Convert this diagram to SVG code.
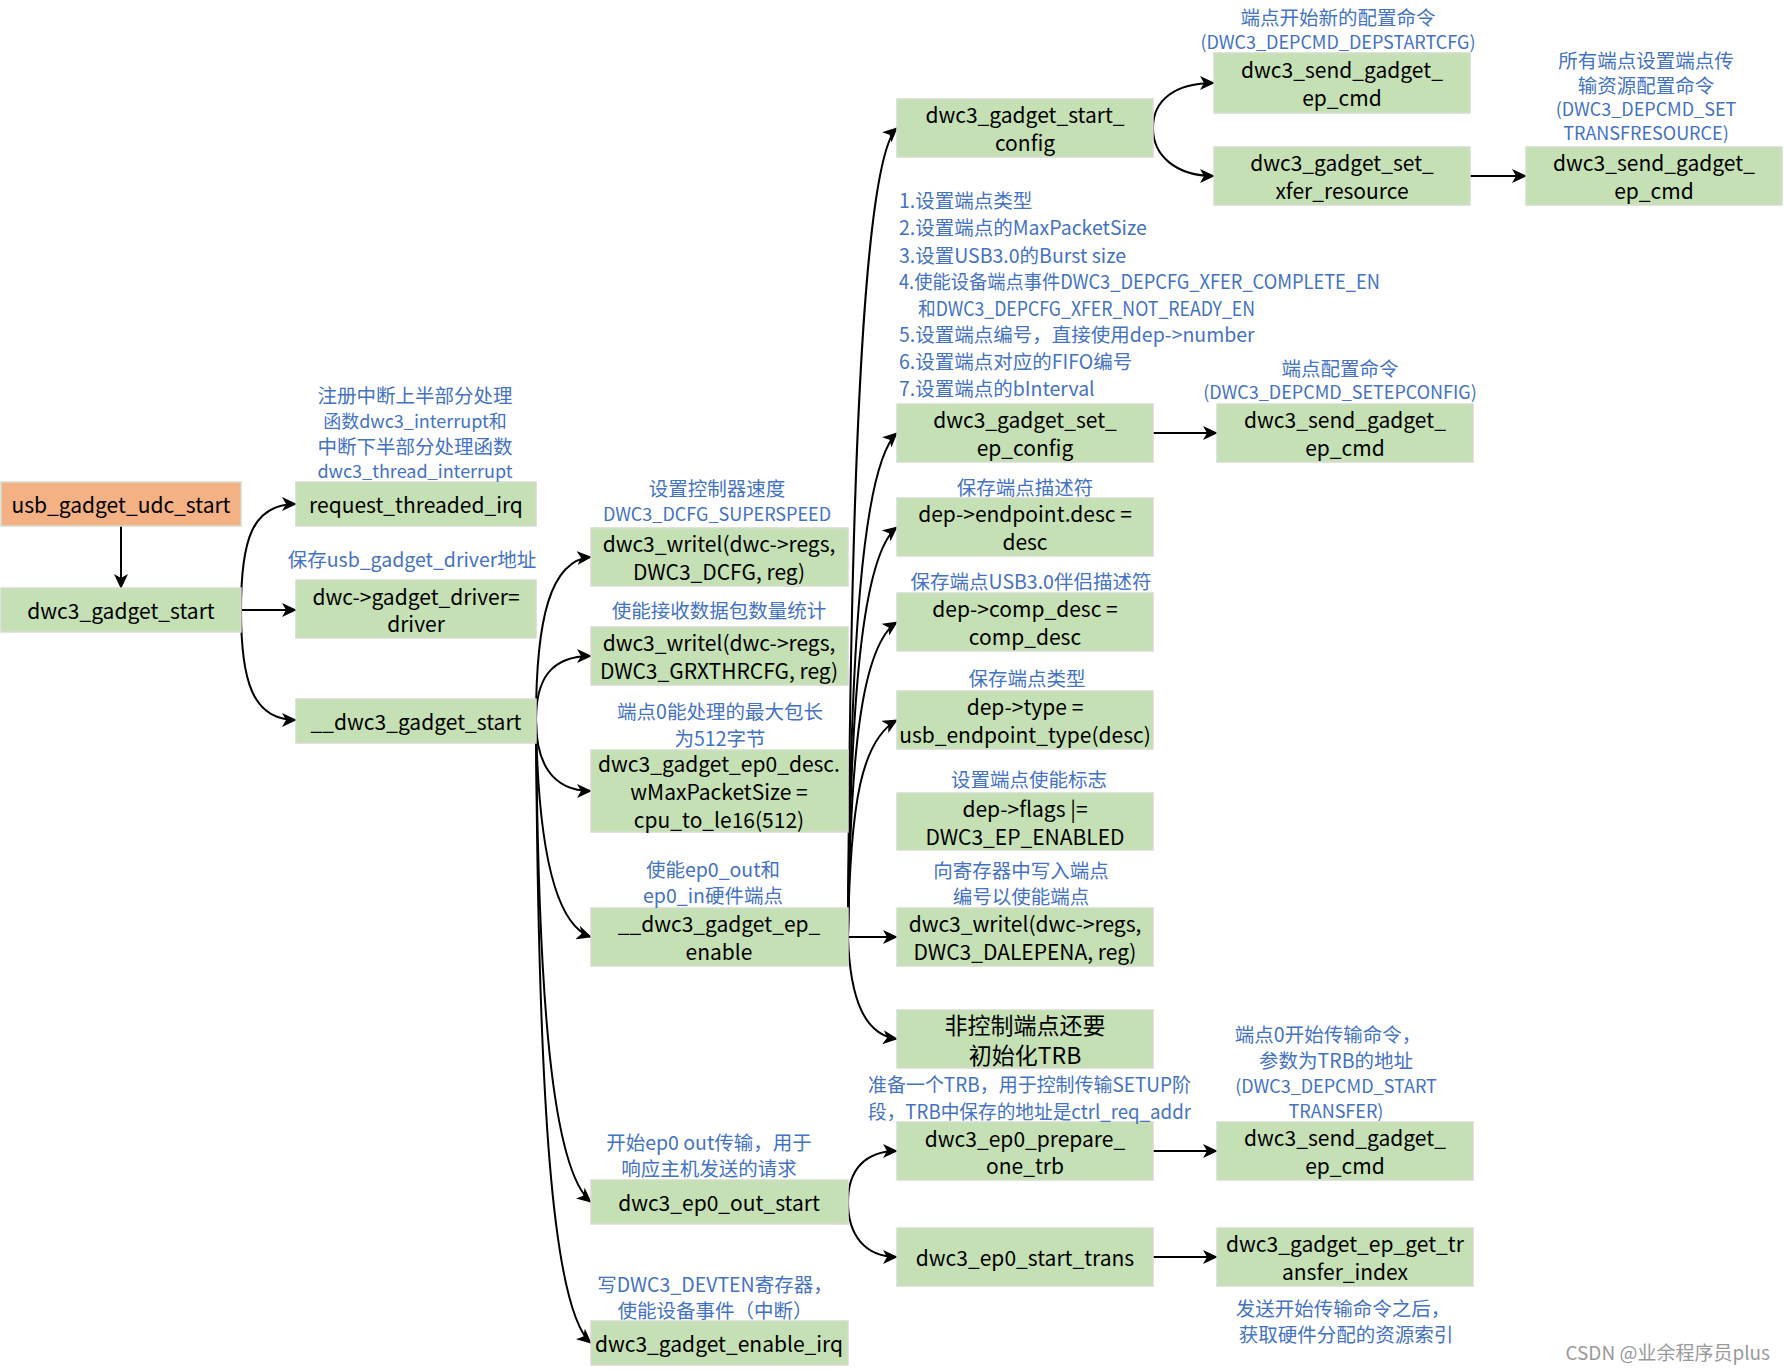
<svg xmlns="http://www.w3.org/2000/svg" width="1784" height="1370" viewBox="0 0 1784 1370">
<defs>
<marker id="ah" markerUnits="userSpaceOnUse" markerWidth="16" markerHeight="14" refX="14" refY="7" orient="auto">
<path d="M0,0 L15,7 L0,14 L4,7 z" fill="#000"/>
</marker>
<style>
.n rect{fill:#C5E0B4;stroke:#D4DCCD;stroke-width:1.5}
.n.o rect{fill:#F4B183}
.n text{font-family:"Noto Sans CJK SC","Liberation Sans",sans-serif;font-size:21px;fill:#000;text-anchor:middle;dominant-baseline:central}
.a{font-family:"Noto Sans CJK SC","Liberation Sans",sans-serif;font-size:19.5px;fill:#4472C4;text-anchor:middle;dominant-baseline:central}
.s{text-anchor:start}
.l{font-size:18px}
#conn path{fill:none;stroke:#000;stroke-width:2;marker-end:url(#ah)}
</style>
</defs>
<rect width="1784" height="1370" fill="#fff"/>

<g id="conn">
<path d="M121,526 L121,588"/>
<path d="M241,610 C241,540 252,504 296,504"/>
<path d="M241,610 L296,610"/>
<path d="M241,610 C241,680 252,720 296,720"/>
<path d="M536,720 C536,620 550,560 591,557"/>
<path d="M536,720 C536,680 550,656 591,656"/>
<path d="M536,720 C536,760 550,791 591,791"/>
<path d="M536,720 C538,850 555,925 591,937"/>
<path d="M536,720 C538,1000 552,1170 591,1202"/>
<path d="M536,720 C538,1100 552,1310 591,1343"/>
<path d="M848,937 C850,500 862,160 897,128"/>
<path d="M848,937 C850,650 862,465 897,433"/>
<path d="M848,937 C850,700 862,555 897,527"/>
<path d="M848,937 C850,750 862,645 897,622"/>
<path d="M848,937 C850,800 862,740 897,720"/>
<path d="M848,937 L897,937"/>
<path d="M848,937 C850,1000 865,1035 897,1039"/>
<path d="M848,1202 C848,1170 865,1151 897,1151"/>
<path d="M848,1202 C848,1235 865,1257 897,1257"/>
<path d="M1153,128 C1153,100 1175,83 1214,83"/>
<path d="M1153,128 C1153,155 1175,176 1214,176"/>
<path d="M1470,176 L1526,176"/>
<path d="M1153,433 L1217,433"/>
<path d="M1153,1151 L1217,1151"/>
<path d="M1153,1257 L1217,1257"/>
</g>

<g id="n1" class="n o"><rect x="1" y="482" width="240" height="44"/><text x="121" y="504">usb_gadget_udc_start</text></g>
<g id="n2" class="n"><rect x="1" y="588" width="240" height="44"/><text x="121" y="610">dwc3_gadget_start</text></g>
<g id="n3" class="n"><rect x="296" y="482" width="240" height="44"/><text x="416" y="504">request_threaded_irq</text></g>
<g id="n4" class="n"><rect x="296" y="580" width="240" height="58"/><text x="416" y="596">dwc-&gt;gadget_driver=</text><text x="416" y="623">driver</text></g>
<g id="n5" class="n"><rect x="296" y="699" width="240" height="44"/><text x="416" y="721">__dwc3_gadget_start</text></g>

<g id="n6" class="n"><rect x="591" y="528" width="257" height="58"/><text x="719" y="543">dwc3_writel(dwc-&gt;regs,</text><text x="719" y="571">DWC3_DCFG, reg)</text></g>
<g id="n7" class="n"><rect x="591" y="627" width="257" height="58"/><text x="719" y="642">dwc3_writel(dwc-&gt;regs,</text><text x="719" y="670">DWC3_GRXTHRCFG, reg)</text></g>
<g id="n8" class="n"><rect x="591" y="750" width="257" height="82"/><text x="719" y="763">dwc3_gadget_ep0_desc.</text><text x="719" y="791">wMaxPacketSize =</text><text x="719" y="819">cpu_to_le16(512)</text></g>
<g id="n9" class="n"><rect x="591" y="908" width="257" height="58"/><text x="719" y="923">__dwc3_gadget_ep_</text><text x="719" y="951">enable</text></g>
<g id="n10" class="n"><rect x="591" y="1180" width="257" height="44"/><text x="719" y="1202">dwc3_ep0_out_start</text></g>
<g id="n11" class="n"><rect x="591" y="1321" width="257" height="44"/><text x="719" y="1343">dwc3_gadget_enable_irq</text></g>

<g id="n12" class="n"><rect x="897" y="99" width="256" height="58"/><text x="1025" y="114">dwc3_gadget_start_</text><text x="1025" y="142">config</text></g>
<g id="n13" class="n"><rect x="897" y="404" width="256" height="58"/><text x="1025" y="419">dwc3_gadget_set_</text><text x="1025" y="447">ep_config</text></g>
<g id="n14" class="n"><rect x="897" y="498" width="256" height="58"/><text x="1025" y="513">dep-&gt;endpoint.desc =</text><text x="1025" y="541">desc</text></g>
<g id="n15" class="n"><rect x="897" y="593" width="256" height="58"/><text x="1025" y="608">dep-&gt;comp_desc =</text><text x="1025" y="636">comp_desc</text></g>
<g id="n16" class="n"><rect x="897" y="691" width="256" height="58"/><text x="1025" y="706">dep-&gt;type =</text><text x="1025" y="734">usb_endpoint_type(desc)</text></g>
<g id="n17" class="n"><rect x="897" y="793" width="256" height="57"/><text x="1025" y="808">dep-&gt;flags |=</text><text x="1025" y="836">DWC3_EP_ENABLED</text></g>
<g id="n18" class="n"><rect x="897" y="908" width="256" height="58"/><text x="1025" y="923">dwc3_writel(dwc-&gt;regs,</text><text x="1025" y="951">DWC3_DALEPENA, reg)</text></g>
<g id="n19" class="n"><rect x="897" y="1010" width="256" height="58"/><text x="1025" y="1024" style="font-size:23px">非控制端点还要</text><text x="1025" y="1054" style="font-size:23px">初始化TRB</text></g>
<g id="n20" class="n"><rect x="897" y="1122" width="256" height="58"/><text x="1025" y="1138">dwc3_ep0_prepare_</text><text x="1025" y="1165">one_trb</text></g>
<g id="n21" class="n"><rect x="897" y="1228" width="256" height="58"/><text x="1025" y="1257">dwc3_ep0_start_trans</text></g>

<g id="n22" class="n"><rect x="1214" y="53" width="256" height="60"/><text x="1342" y="69">dwc3_send_gadget_</text><text x="1342" y="97">ep_cmd</text></g>
<g id="n23" class="n"><rect x="1214" y="147" width="256" height="58"/><text x="1342" y="162">dwc3_gadget_set_</text><text x="1342" y="190">xfer_resource</text></g>
<g id="n24" class="n"><rect x="1217" y="404" width="256" height="58"/><text x="1345" y="419">dwc3_send_gadget_</text><text x="1345" y="447">ep_cmd</text></g>
<g id="n25" class="n"><rect x="1217" y="1122" width="256" height="58"/><text x="1345" y="1137">dwc3_send_gadget_</text><text x="1345" y="1165">ep_cmd</text></g>
<g id="n26" class="n"><rect x="1217" y="1228" width="256" height="58"/><text x="1345" y="1243">dwc3_gadget_ep_get_tr</text><text x="1345" y="1271">ansfer_index</text></g>
<g id="n27" class="n"><rect x="1526" y="147" width="256" height="58"/><text x="1654" y="162">dwc3_send_gadget_</text><text x="1654" y="190">ep_cmd</text></g>

<g id="labels">
<text class="a" x="415" y="394">注册中断上半部分处理</text>
<text class="a l" x="415" y="420">函数dwc3_interrupt和</text>
<text class="a" x="415" y="445">中断下半部分处理函数</text>
<text class="a l" x="415" y="470">dwc3_thread_interrupt</text>
<text class="a" x="412" y="558">保存usb_gadget_driver地址</text>
<text class="a" x="717" y="487">设置控制器速度</text>
<text class="a l" x="717" y="513">DWC3_DCFG_SUPERSPEED</text>
<text class="a" x="719" y="609">使能接收数据包数量统计</text>
<text class="a" x="720" y="710">端点0能处理的最大包长</text>
<text class="a" x="720" y="737">为512字节</text>
<text class="a" x="713" y="868">使能ep0_out和</text>
<text class="a" x="713" y="894">ep0_in硬件端点</text>
<text class="a" x="709" y="1141">开始ep0 out传输，用于</text>
<text class="a" x="709" y="1167">响应主机发送的请求</text>
<text class="a" x="715" y="1283">写DWC3_DEVTEN寄存器，</text>
<text class="a" x="715" y="1309">使能设备事件（中断）</text>

<text class="a s" x="899" y="199">1.设置端点类型</text>
<text class="a s" x="899" y="226">2.设置端点的MaxPacketSize</text>
<text class="a s" x="899" y="254">3.设置USB3.0的Burst size</text>
<text class="a s" x="899" y="280" textLength="481" lengthAdjust="spacingAndGlyphs">4.使能设备端点事件DWC3_DEPCFG_XFER_COMPLETE_EN</text>
<text class="a s" x="918" y="307" textLength="337" lengthAdjust="spacingAndGlyphs">和DWC3_DEPCFG_XFER_NOT_READY_EN</text>
<text class="a s" x="899" y="333">5.设置端点编号，直接使用dep-&gt;number</text>
<text class="a s" x="899" y="360">6.设置端点对应的FIFO编号</text>
<text class="a s" x="899" y="387">7.设置端点的bInterval</text>

<text class="a" x="1025" y="486">保存端点描述符</text>
<text class="a" x="1031" y="580">保存端点USB3.0伴侣描述符</text>
<text class="a" x="1027" y="677">保存端点类型</text>
<text class="a" x="1029" y="778">设置端点使能标志</text>
<text class="a" x="1021" y="869">向寄存器中写入端点</text>
<text class="a" x="1021" y="895">编号以使能端点</text>
<text class="a s" x="868" y="1083" textLength="323" lengthAdjust="spacingAndGlyphs">准备一个TRB，用于控制传输SETUP阶</text>
<text class="a s" x="868" y="1110" textLength="323" lengthAdjust="spacingAndGlyphs">段，TRB中保存的地址是ctrl_req_addr</text>

<text class="a" x="1338" y="16">端点开始新的配置命令</text>
<text class="a l" x="1338" y="41">(DWC3_DEPCMD_DEPSTARTCFG)</text>
<text class="a" x="1646" y="59">所有端点设置端点传</text>
<text class="a" x="1646" y="84">输资源配置命令</text>
<text class="a l" x="1646" y="108">(DWC3_DEPCMD_SET</text>
<text class="a l" x="1646" y="132">TRANSFRESOURCE)</text>
<text class="a" x="1340" y="367">端点配置命令</text>
<text class="a l" x="1340" y="391">(DWC3_DEPCMD_SETEPCONFIG)</text>
<text class="a" x="1328" y="1033">端点0开始传输命令，</text>
<text class="a" x="1336" y="1059">参数为TRB的地址</text>
<text class="a l" x="1336" y="1085">(DWC3_DEPCMD_START</text>
<text class="a l" x="1336" y="1110">TRANSFER)</text>
<text class="a" x="1343" y="1307">发送开始传输命令之后，</text>
<text class="a" x="1346" y="1333">获取硬件分配的资源索引</text>

<text x="1770" y="1351" style="font-family:'Noto Sans CJK SC','Liberation Sans',sans-serif;font-size:19px;fill:#999;text-anchor:end;dominant-baseline:central">CSDN @业余程序员plus</text>
</g>
</svg>
